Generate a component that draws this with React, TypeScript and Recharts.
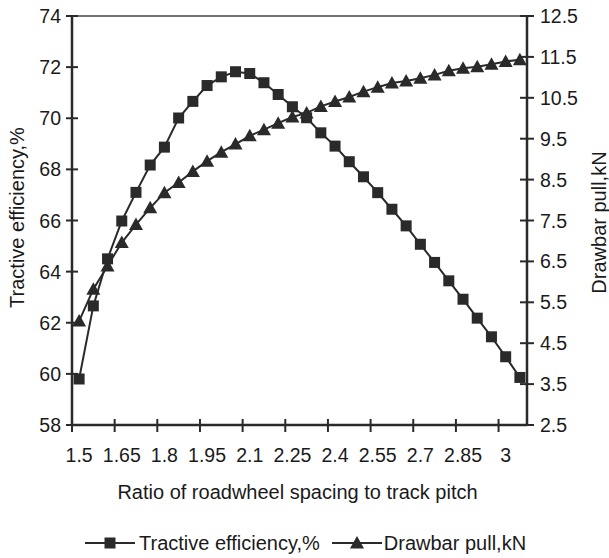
import React from 'react';
import { LineChart, Line, XAxis, YAxis, Legend, ReferenceLine } from 'recharts';

const ratios = [1.5, 1.55, 1.6, 1.65, 1.7, 1.75, 1.8, 1.85, 1.9, 1.95, 2.0, 2.05, 2.1, 2.15, 2.2, 2.25, 2.3, 2.35, 2.4, 2.45, 2.5, 2.55, 2.6, 2.65, 2.7, 2.75, 2.8, 2.85, 2.9, 2.95, 3.0, 3.05];
const tractiveEfficiency = [59.8, 62.66, 64.5, 65.98, 67.1, 68.17, 68.87, 70.01, 70.66, 71.28, 71.62, 71.82, 71.75, 71.39, 70.93, 70.45, 70.02, 69.43, 68.91, 68.3, 67.71, 67.09, 66.44, 65.79, 65.07, 64.36, 63.64, 62.92, 62.18, 61.45, 60.67, 59.86];
const drawbarPull = [5.04, 5.82, 6.39, 6.96, 7.4, 7.81, 8.18, 8.43, 8.7, 8.95, 9.17, 9.37, 9.57, 9.72, 9.88, 10.03, 10.13, 10.29, 10.41, 10.52, 10.65, 10.76, 10.86, 10.91, 10.98, 11.06, 11.16, 11.22, 11.26, 11.32, 11.39, 11.43];
const xLabelTicks = [1.5, 1.65, 1.8, 1.95, 2.1, 2.25, 2.4, 2.55, 2.7, 2.85, 3];
const xBoundaryTicks = [1.475, 1.625, 1.775, 1.925, 2.075, 2.225, 2.375, 2.525, 2.675, 2.825, 2.975];
const xDomain = [1.475, 3.075];
const leftTicks = [58, 60, 62, 64, 66, 68, 70, 72, 74];
const rightTicks = [2.5, 3.5, 4.5, 5.5, 6.5, 7.5, 8.5, 9.5, 10.5, 11.5, 12.5];
const seriesOrder = ['te', 'dp'];
const seriesNames = { te: 'Tractive efficiency,%', dp: 'Drawbar pull,kN' };
const xTitle = 'Ratio of roadwheel spacing to track pitch';

const data = ratios.map((r, i) => ({ x: r, te: tractiveEfficiency[i], dp: drawbarPull[i] }));

const FONT = '"Liberation Sans", Arial, Helvetica, sans-serif';
const TEXT = '#1a1a1a';
const INK = '#2a2a2a';
const TS = 6;
const TM = 4;

const XTick = (props: any) => {
  const { x, y, payload } = props;
  const axisY = y - TS - TM;
  const v = payload.value;
  const isLabel = xLabelTicks.some((t) => Math.abs(t - v) < 1e-6);
  if (isLabel) {
    return (
      <text x={x} y={axisY + 37} textAnchor="middle" fontSize={19.5} fontFamily={FONT} fill={TEXT}>
        {String(v)}
      </text>
    );
  }
  return <line x1={x} x2={x} y1={axisY - 6} y2={axisY + 7} stroke={INK} strokeWidth={2} />;
};

const LeftTick = (props: any) => {
  const { x, y, payload } = props;
  const axisX = x + TS + TM;
  return (
    <g>
      <line x1={axisX - 6} x2={axisX + 6} y1={y} y2={y} stroke={INK} strokeWidth={2} />
      <text x={axisX - 11} y={y + 7} textAnchor="end" fontSize={19.5} fontFamily={FONT} fill={TEXT}>
        {String(payload.value)}
      </text>
    </g>
  );
};

const RightTick = (props: any) => {
  const { x, y, payload } = props;
  const axisX = x - TS - TM;
  return (
    <g>
      <line x1={axisX - 7} x2={axisX + 7} y1={y} y2={y} stroke={INK} strokeWidth={2} />
      <text x={axisX + 13} y={y + 7} textAnchor="start" fontSize={19.5} fontFamily={FONT} fill={TEXT}>
        {String(payload.value)}
      </text>
    </g>
  );
};

const SquareDot = (props: any) => {
  const { cx, cy, index } = props;
  if (cx == null || cy == null) return <g key={index} />;
  return <rect key={index} x={cx - 5.5} y={cy - 5.5} width={11} height={11} fill={INK} />;
};

const TriangleDot = (props: any) => {
  const { cx, cy, index } = props;
  if (cx == null || cy == null) return <g key={index} />;
  return <polygon key={index} points={`${cx},${cy - 7} ${cx - 7},${cy + 5.5} ${cx + 7},${cy + 5.5}`} fill={INK} />;
};

const XTitle = (props: any) => {
  const vb = props.viewBox || {};
  return (
    <text x={vb.x + vb.width / 2 - 2} y={vb.y + 74} textAnchor="middle" fontSize={20} fontFamily={FONT} fill={TEXT}>
      {xTitle}
    </text>
  );
};

const LeftTitle = (props: any) => {
  const vb = props.viewBox || {};
  const cx = 23.5;
  const cy = vb.y + vb.height / 2 - 3;
  return (
    <text x={cx} y={cy} transform={`rotate(-90 ${cx} ${cy})`} textAnchor="middle" fontSize={20} fontFamily={FONT} fill={TEXT}>
      {seriesNames.te}
    </text>
  );
};

const RightTitle = (props: any) => {
  const vb = props.viewBox || {};
  const cx = vb.x + vb.width - 3;
  const cy = vb.y + vb.height / 2 + 2;
  return (
    <text x={cx} y={cy} transform={`rotate(-90 ${cx} ${cy})`} textAnchor="middle" fontSize={20} fontFamily={FONT} fill={TEXT}>
      {seriesNames.dp}
    </text>
  );
};

const LegendContent = (props: any) => {
  const payload = [...(props.payload || [])].sort(
    (a: any, b: any) => seriesOrder.indexOf(a.dataKey) - seriesOrder.indexOf(b.dataKey)
  );
  return (
    <div style={{ display: 'flex', alignItems: 'center', height: 24, paddingLeft: 85, fontFamily: FONT, fontSize: 20, color: TEXT, whiteSpace: 'nowrap' }}>
      {payload.map((p: any, i: number) => (
        <div key={i} style={{ display: 'flex', alignItems: 'center', marginLeft: i === 0 ? 0 : 12 }}>
          <svg width={50} height={24} style={{ display: 'block' }}>
            <line x1={0} x2={50} y1={12} y2={12} stroke={INK} strokeWidth={2} />
            {p.dataKey === 'te' ? (
              <rect x={19.5} y={6.5} width={11} height={11} fill={INK} />
            ) : (
              <polygon points="25,5 18,17.5 32,17.5" fill={INK} />
            )}
          </svg>
          <span style={{ marginLeft: i === 0 ? 4 : 2, lineHeight: '24px' }}>{p.value}</span>
        </div>
      ))}
    </div>
  );
};

export default function App() {
  return (
    <div style={{ position: 'absolute', left: 0, top: 0, background: '#fff' }}>
      <LineChart width={609} height={558} data={data} margin={{ top: 16, right: 0, left: 0, bottom: 0 }}>
        <XAxis
          dataKey="x"
          type="number"
          domain={xDomain}
          ticks={[...xBoundaryTicks, ...xLabelTicks].sort((a, b) => a - b)}
          interval={0}
          tick={<XTick />}
          tickLine={false}
          tickSize={TS}
          tickMargin={TM}
          axisLine={{ stroke: INK, strokeWidth: 2.5 }}
          height={109}
          allowDataOverflow
          label={<XTitle />}
        />
        <YAxis
          yAxisId="left"
          orientation="left"
          domain={[58, 74]}
          ticks={leftTicks}
          interval={0}
          tick={<LeftTick />}
          tickLine={false}
          tickSize={TS}
          tickMargin={TM}
          axisLine={{ stroke: INK, strokeWidth: 2.5 }}
          width={72}
          allowDataOverflow
          label={<LeftTitle />}
        />
        <YAxis
          yAxisId="right"
          orientation="right"
          domain={[2.5, 12.5]}
          ticks={rightTicks}
          interval={0}
          tick={<RightTick />}
          tickLine={false}
          tickSize={TS}
          tickMargin={TM}
          axisLine={{ stroke: INK, strokeWidth: 2.5 }}
          width={82}
          allowDataOverflow
          label={<RightTitle />}
        />
        <ReferenceLine yAxisId="left" y={74} stroke="#444" strokeWidth={1.5} />
        <Line
          yAxisId="left"
          dataKey="te"
          name={seriesNames.te}
          stroke={INK}
          strokeWidth={2}
          dot={SquareDot}
          activeDot={false}
          isAnimationActive={false}
        />
        <Line
          yAxisId="right"
          dataKey="dp"
          name={seriesNames.dp}
          stroke={INK}
          strokeWidth={2}
          dot={TriangleDot}
          activeDot={false}
          isAnimationActive={false}
        />
        <Legend
          verticalAlign="bottom"
          content={<LegendContent />}
          wrapperStyle={{ position: 'absolute', left: 0, top: 531, width: 609, height: 24 }}
        />
      </LineChart>
    </div>
  );
}
